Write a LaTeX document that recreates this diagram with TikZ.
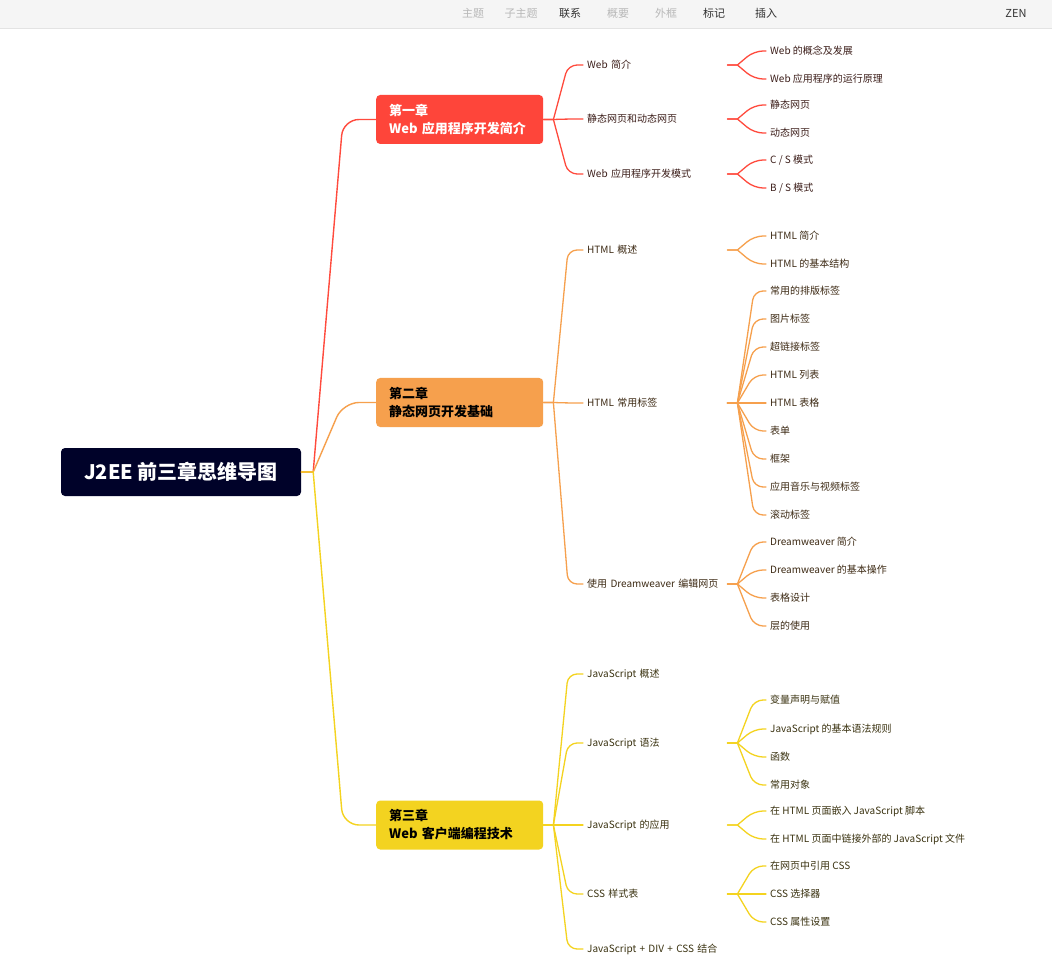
\documentclass[tikz,border=0pt]{standalone}
\usepackage{fontspec}
\setmainfont{Noto Sans CJK SC}
\usetikzlibrary{calc}
\definecolor{cA}{HTML}{FF4A3D}
\definecolor{cB}{HTML}{F6A04D}
\definecolor{cC}{HTML}{F4D31F}
\definecolor{fA}{HTML}{FE453A}
\definecolor{fB}{HTML}{F6A04D}
\definecolor{fC}{HTML}{F3D320}
\definecolor{rootc}{HTML}{000229}
\definecolor{tA}{HTML}{3C1E1A}
\definecolor{tB}{HTML}{3D2A14}
\definecolor{tC}{HTML}{3A3210}
\definecolor{bar}{HTML}{F5F5F5}
\definecolor{barline}{HTML}{E3E3E3}
\definecolor{tgray}{HTML}{B8B8B8}
\definecolor{tdark}{HTML}{333333}
\tikzset{
  conn/.style={line width=1.3pt, line cap=round},
  rootbox/.style={fill=rootc, rounded corners=4pt, minimum width=240pt, minimum height=48pt, text=white, font=\fontsize{20}{24}\selectfont\bfseries, inner sep=0pt},
  chbox/.style={rounded corners=4pt, minimum width=167pt, minimum height=49pt, text width=141pt, align=left, inner xsep=13pt, inner ysep=0pt, font=\fontsize{13}{18}\selectfont\bfseries, anchor=west},
  subnode/.style={anchor=west, inner xsep=4pt, inner ysep=2pt, text width=136pt, align=left, font=\fontsize{10}{12}\selectfont},
  leafnode/.style={anchor=west, inner xsep=4pt, inner ysep=2pt, font=\fontsize{10}{12}\selectfont},
  bartext/.style={font=\fontsize{11}{13}\selectfont, inner sep=0pt},
}
% chapter -> subtopic
\newcommand{\cconn}[3]{\draw[conn,#3] (#1.east) -- ++(10,0) [rounded corners=9pt] -- ($(#2.west)+(-15,0)$) -- (#2.west);}
% subtopic -> leaf
\newcommand{\lconn}[3]{\draw[conn,#3] (#1.east) -- ++(10,0) [rounded corners=9pt] -- ($(#2.west)+(-12,0)$) -- (#2.west);}
% root -> chapter
\newcommand{\rconn}[3]{\draw[conn,line width=1.4pt,#3] (#1.east) -- ++(12,0) [rounded corners=16pt] -- ($(#2.west)+(-33,0)$) -- (#2.west);}
\begin{document}
\begin{tikzpicture}[x=1pt,y=-1pt]
\useasboundingbox (0,0) rectangle (1052,965);
\fill[white] (0,0) rectangle (1052,965);
% toolbar
\fill[bar] (0,0) rectangle (1052,28);
\draw[barline] (0,28.5) -- (1052,28.5);
\node[bartext,text=tgray] (tb1) at (473,13) {主题};
\node[bartext,text=tgray] (tb2) at (521,13) {子主题};
\node[bartext,text=tdark] (tb3) at (570,13) {联系};
\node[bartext,text=tgray] (tb4) at (618,13) {概要};
\node[bartext,text=tgray] (tb5) at (666,13) {外框};
\node[bartext,text=tdark] (tb6) at (714,13) {标记};
\node[bartext,text=tdark] (tb7) at (766,13) {插入};
\node[bartext,text=tdark] (tb8) at (1016,13) {ZEN};

% root
\node[rootbox] (root) at (181,472) {J2EE 前三章思维导图};
% chapters
\node[chbox,fill=fA,text=white] (ch1) at (376,119.5) {第一章\\Web 应用程序开发简介};
\node[chbox,fill=fB,text=black] (ch2) at (376,402.5) {第二章\\静态网页开发基础};
\node[chbox,fill=fC,text=black] (ch3) at (376,825) {第三章\\Web 客户端编程技术};

\rconn{root}{ch1}{cA}
\rconn{root}{ch2}{cB}
\rconn{root}{ch3}{cC}

% chapter 1
\node[subnode,text=tA] (s11) at (583,65) {Web 简介};
\node[subnode,text=tA] (s12) at (583,119) {静态网页和动态网页};
\node[subnode,text=tA] (s13) at (583,174) {Web 应用程序开发模式};
\cconn{ch1}{s11}{cA}
\cconn{ch1}{s12}{cA}
\cconn{ch1}{s13}{cA}
\node[leafnode,text=tA] (l111) at (766,51) {Web 的概念及发展};
\node[leafnode,text=tA] (l112) at (766,79) {Web 应用程序的运行原理};
\node[leafnode,text=tA] (l121) at (766,105) {静态网页};
\node[leafnode,text=tA] (l122) at (766,133) {动态网页};
\node[leafnode,text=tA] (l131) at (766,160) {C / S 模式};
\node[leafnode,text=tA] (l132) at (766,188) {B / S 模式};
\lconn{s11}{l111}{cA}
\lconn{s11}{l112}{cA}
\lconn{s12}{l121}{cA}
\lconn{s12}{l122}{cA}
\lconn{s13}{l131}{cA}
\lconn{s13}{l132}{cA}

% chapter 2
\node[subnode,text=tB] (s21) at (583,250) {HTML 概述};
\node[subnode,text=tB] (s22) at (583,403) {HTML 常用标签};
\node[subnode,text=tB] (s23) at (583,584) {使用 Dreamweaver 编辑网页};
\cconn{ch2}{s21}{cB}
\cconn{ch2}{s22}{cB}
\cconn{ch2}{s23}{cB}
\node[leafnode,text=tB] (l211) at (766,236) {HTML 简介};
\node[leafnode,text=tB] (l212) at (766,264) {HTML 的基本结构};
\lconn{s21}{l211}{cB}
\lconn{s21}{l212}{cB}
\node[leafnode,text=tB] (l221) at (766,291) {常用的排版标签};
\node[leafnode,text=tB] (l222) at (766,319) {图片标签};
\node[leafnode,text=tB] (l223) at (766,347) {超链接标签};
\node[leafnode,text=tB] (l224) at (766,375) {HTML 列表};
\node[leafnode,text=tB] (l225) at (766,403) {HTML 表格};
\node[leafnode,text=tB] (l226) at (766,431) {表单};
\node[leafnode,text=tB] (l227) at (766,459) {框架};
\node[leafnode,text=tB] (l228) at (766,487) {应用音乐与视频标签};
\node[leafnode,text=tB] (l229) at (766,515) {滚动标签};
\foreach \k in {1,...,9} {\lconn{s22}{l22\k}{cB}}
\node[leafnode,text=tB] (l231) at (766,542) {Dreamweaver 简介};
\node[leafnode,text=tB] (l232) at (766,570) {Dreamweaver 的基本操作};
\node[leafnode,text=tB] (l233) at (766,598) {表格设计};
\node[leafnode,text=tB] (l234) at (766,626) {层的使用};
\foreach \k in {1,...,4} {\lconn{s23}{l23\k}{cB}}

% chapter 3
\node[subnode,text=tC] (s31) at (583,674) {JavaScript 概述};
\node[subnode,text=tC] (s32) at (583,743) {JavaScript 语法};
\node[subnode,text=tC] (s33) at (583,825) {JavaScript 的应用};
\node[subnode,text=tC] (s34) at (583,894) {CSS 样式表};
\node[subnode,text=tC] (s35) at (583,949) {JavaScript + DIV + CSS 结合};
\foreach \k in {1,...,5} {\cconn{ch3}{s3\k}{cC}}
\node[leafnode,text=tC] (l321) at (766,700) {变量声明与赋值};
\node[leafnode,text=tC] (l322) at (766,729) {JavaScript 的基本语法规则};
\node[leafnode,text=tC] (l323) at (766,757) {函数};
\node[leafnode,text=tC] (l324) at (766,785) {常用对象};
\foreach \k in {1,...,4} {\lconn{s32}{l32\k}{cC}}
\node[leafnode,text=tC] (l331) at (766,811) {在 HTML 页面嵌入 JavaScript 脚本};
\node[leafnode,text=tC] (l332) at (766,839) {在 HTML 页面中链接外部的 JavaScript 文件};
\lconn{s33}{l331}{cC}
\lconn{s33}{l332}{cC}
\node[leafnode,text=tC] (l341) at (766,866) {在网页中引用 CSS};
\node[leafnode,text=tC] (l342) at (766,894) {CSS 选择器};
\node[leafnode,text=tC] (l343) at (766,922) {CSS 属性设置};
\foreach \k in {1,...,3} {\lconn{s34}{l34\k}{cC}}
\end{tikzpicture}
\end{document}
